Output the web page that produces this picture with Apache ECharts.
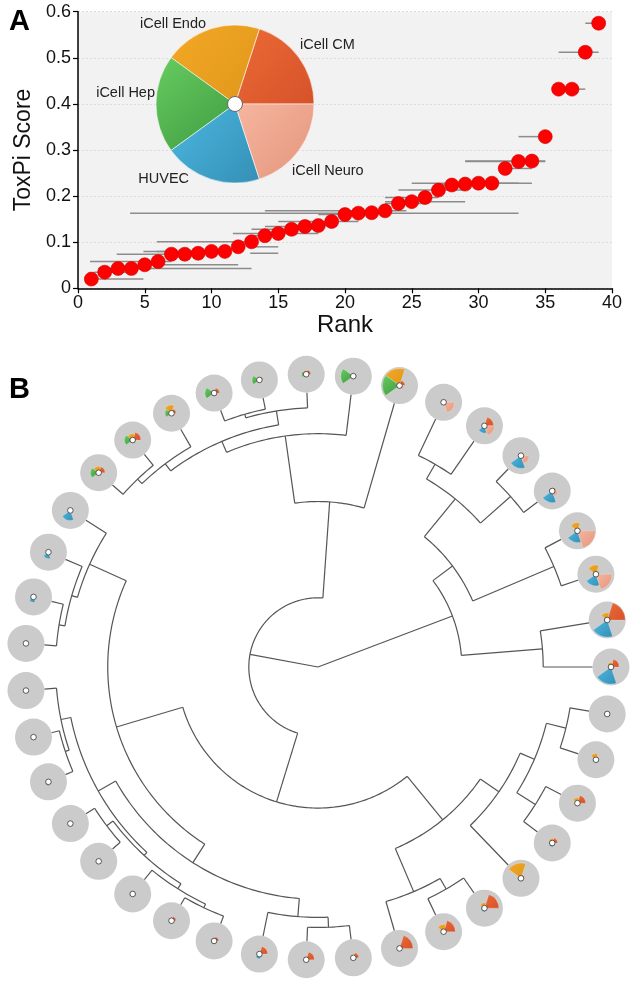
<!DOCTYPE html>
<html><head><meta charset="utf-8">
<script src="https://cdn.jsdelivr.net/npm/echarts/dist/echarts.min.js"></script>
<style>html,body{margin:0;padding:0;background:#fff}#c{width:633px;height:983px}</style>
</head><body><div id="c"></div>
<script>
// ---------- Panel A data ----------
const ranks = [1,2,3,4,5,6,7,8,9,10,11,12,13,14,15,16,17,18,19,20,21,22,23,24,25,26,27,28,29,30,31,32,33,34,35,36,37,38,39];
const toxpiScores = [0.020,0.035,0.043,0.043,0.051,0.058,0.074,0.074,0.076,0.080,0.080,0.090,0.101,0.114,0.119,0.128,0.134,0.136,0.145,0.160,0.163,0.164,0.168,0.184,0.188,0.197,0.213,0.224,0.226,0.228,0.228,0.260,0.275,0.276,0.329,0.432,0.432,0.512,0.575];
const rankLow  = [0.8,1.2,1.5,3.9,4.9,0.9,2.9,7.5,12.9,4.9,5.9,12.8,5.9,13.0,11.6,13.0,14.0,16.0,15.0,18.0,3.9,21.0,14.0,23.0,23.0,23.0,24.0,27.0,27.0,25.0,30.0,32.0,29.0,29.0,33.0,36.0,37.0,36.0,38.0];
const rankHigh = [4.9,3.6,5.5,13.0,12.0,7.0,7.0,9.0,15.0,9.1,11.0,15.0,13.1,14.5,18.0,18.0,18.0,19.0,21.0,21.0,33.0,23.0,24.6,26.0,29.0,27.0,29.0,30.0,30.0,33.0,34.0,34.0,35.0,35.0,35.0,37.0,38.0,39.0,39.0];
const xTicks = [0,5,10,15,20,25,30,35,40];
const yTicks = [0,0.1,0.2,0.3,0.4,0.5,0.6];

// ---------- ToxPi slices ----------
const sliceNames = ['iCell CM','iCell Endo','iCell Hep','HUVEC','iCell Neuro'];
const sliceLight = ['#ec6a36','#f3a826','#66cc60','#4bb8e0','#f6b6a0'];
const sliceDark  = ['#d6522a','#e0961a','#3f9a40','#358fb6','#e4957b'];

// ---------- Panel B data: slice scores per chemical (leaf id) ----------
const cmScores    = [0.25,0.03,0.30,0.03,0.50,0.05,0.20,0.02,0.02,1.00,0.45,0.00,0.05,0.45,0.30,0.20,0.80,0.65,0.75,0.30,0.45,0.45,0.25,0.25,0.00,0.00,0.00,0.05,0.10,0.10,0.00,0.00,0.00,0.00,0.35,0.45,0.25,0.30,0.20];
const endoScores  = [0.20,0.02,0.95,0.03,0.03,0.10,0.10,0.45,0.50,0.40,0.25,0.15,0.35,0.30,0.25,0.85,0.30,0.40,0.00,0.05,0.00,0.00,0.00,0.00,0.00,0.00,0.00,0.00,0.00,0.10,0.15,0.15,0.05,0.00,0.35,0.35,0.45,0.10,0.15];
const hepScores   = [0.25,0.70,0.95,0.10,0.05,0.00,0.00,0.05,0.10,0.20,0.00,0.00,0.00,0.00,0.00,0.20,0.20,0.05,0.00,0.10,0.00,0.00,0.00,0.00,0.00,0.00,0.00,0.00,0.05,0.10,0.00,0.00,0.00,0.15,0.45,0.45,0.35,0.50,0.40];
const huvecScores = [0.05,0.02,0.05,0.03,0.40,0.70,0.65,0.65,0.65,0.95,0.95,0.00,0.00,0.15,0.20,0.15,0.20,0.05,0.10,0.00,0.00,0.25,0.15,0.05,0.00,0.15,0.00,0.20,0.10,0.10,0.15,0.30,0.35,0.55,0.15,0.05,0.15,0.00,0.00];
const neuroScores = [0.05,0.02,0.25,0.60,0.55,0.45,0.30,1.00,0.90,0.10,0.00,0.00,0.15,0.00,0.10,0.00,0.00,0.00,0.00,0.00,0.00,0.00,0.00,0.00,0.10,0.00,0.00,0.15,0.10,0.10,0.00,0.00,0.00,0.00,0.00,0.00,0.00,0.00,0.00];

// dendrogram: [mergeHeight, childA, childB]; integers are leaf ids
const dendrogram =
[1.00,
  [0.745,
    [0.48,
      [0.273,
        [0.19, [0.133, [0.059, 11, 12], [0.052, 13, 14]], 15],
        [0.10, [0.055, 16, 17], 18]],
      [0.225,
        [0.144,
          [0.077, [0.04, 19, 20], 21],
          [0.07,
            [0.055, [0.033, [0.018, 22, 23], 24], [0.026, 25, 26]],
            [0.033, [0.018, 27, 28], 29]]],
        [0.077, [0.055, [0.033, 30, 31], 32], 33]]],
    [0.39,
      [0.14,
        [0.096, [0.063, [0.04, 34, 35], 36], [0.044, [0.03, 37, 38], 0]],
        1],
      2]],
  [0.47,
    [0.38, [0.20, [0.137, 3, 4], [0.052, 5, 6]], [0.055, 7, 8]],
    [0.17, 9, 10]]];

// ---------- build dendrogram geometry (in data units) ----------
const LEAF_H = -0.012, RING = -0.08;
const nodes = [], leafOrder = [];
function walk(n) {
  if (typeof n === 'number') { leafOrder.push(n); return {h: LEAF_H, a: leafOrder.length - 1}; }
  const kids = n.slice(1).map(walk);
  const node = {h: n[0], a: (kids[0].a + kids[kids.length - 1].a) / 2, kids};
  nodes.push(node);
  return node;
}
walk(dendrogram);
const nLeaves = leafOrder.length;

const FONT = 'Liberation Sans, Arial, sans-serif';
const grad = (i) => new echarts.graphic.LinearGradient(0, 0, 1, 1, [{offset: 0, color: sliceLight[i]}, {offset: 1, color: sliceDark[i]}]);

const chart = echarts.init(document.getElementById('c'), null, {renderer: 'canvas'});
chart.setOption({
  animation: false,
  backgroundColor: '#fff',
  textStyle: {fontFamily: FONT},
  title: [
    {text: 'A', left: 4, top: 2, textStyle: {fontSize: 29, fontWeight: 'bold', color: '#000', fontFamily: FONT}},
    {text: 'B', left: 4, top: 370, textStyle: {fontSize: 29, fontWeight: 'bold', color: '#000', fontFamily: FONT}}
  ],
  grid: {left: 78, right: 21, top: 11.7, bottom: 694.7, show: true, backgroundColor: '#f2f2f2', borderWidth: 0},
  xAxis: {
    type: 'value', min: xTicks[0], max: xTicks[xTicks.length - 1], interval: 5,
    axisLine: {show: true, onZero: false, lineStyle: {color: '#000', width: 1.5}},
    axisTick: {show: true, length: 5, lineStyle: {color: '#000', width: 1.2}},
    axisLabel: {fontSize: 18, color: '#111', margin: 6, fontFamily: FONT},
    splitLine: {show: false},
    name: 'Rank', nameLocation: 'middle', nameGap: 24,
    nameTextStyle: {fontSize: 24, color: '#111', fontFamily: FONT}
  },
  yAxis: {
    type: 'value', min: yTicks[0], max: yTicks[yTicks.length - 1], interval: 0.1,
    axisLine: {show: true, lineStyle: {color: '#000', width: 1.5}},
    axisTick: {show: true, length: 5, lineStyle: {color: '#000', width: 1.2}},
    axisLabel: {fontSize: 18, color: '#111', margin: 7, fontFamily: FONT,
      formatter: v => v === 0 ? '0' : v.toFixed(1)},
    splitLine: {show: true, lineStyle: {color: '#dcdcdc', type: [2, 2], width: 1}},
    name: 'ToxPi Score', nameLocation: 'middle', nameGap: 41,
    nameTextStyle: {fontSize: 23, color: '#111', fontFamily: FONT}
  },
  polar: {center: [318, 667], radius: 293},
  angleAxis: {type: 'value', min: 0, max: nLeaves, startAngle: 350.77, clockwise: true, show: false,
    axisLine: {show: false}, axisTick: {show: false}, axisLabel: {show: false}, splitLine: {show: false}},
  radiusAxis: {type: 'value', min: RING, max: 1, inverse: true, show: false,
    axisLine: {show: false}, axisTick: {show: false}, axisLabel: {show: false}, splitLine: {show: false}},
  series: [
    {
      type: 'custom', name: 'rankRange', coordinateSystem: 'cartesian2d', z: 2, silent: true,
      data: ranks.map((r, i) => [r, toxpiScores[i], rankLow[i], rankHigh[i]]),
      encode: {x: 0, y: 1},
      renderItem: (params, api) => {
        const y = api.value(1);
        const p1 = api.coord([api.value(2), y]), p2 = api.coord([api.value(3), y]);
        return {type: 'line', shape: {x1: p1[0], y1: p1[1], x2: p2[0], y2: p2[1]},
          style: {stroke: '#8c8c8c', lineWidth: 1.5}};
      }
    },
    {
      type: 'scatter', name: 'ToxPi', z: 3, silent: true,
      data: ranks.map((r, i) => [r, toxpiScores[i]]),
      symbol: 'circle', symbolSize: 14,
      itemStyle: {color: '#ff0000', borderColor: '#d40000', borderWidth: 0.6, opacity: 1}
    },
    {
      type: 'pie', name: 'legendPie', center: [235, 104], radius: [0, 79],
      startAngle: 0, clockwise: false, silent: true, z: 5,
      data: sliceNames.map((n, i) => ({name: n, value: 1, itemStyle: {color: grad(i)}})),
      itemStyle: {borderColor: 'rgba(255,255,255,0.7)', borderWidth: 0.8},
      label: {show: true, position: 'outside', fontSize: 14.5, color: '#222', fontFamily: FONT, formatter: '{b}', distanceToLabelLine: 5},
      labelLine: {show: false, length: 5, length2: 0},
      labelLayout: (p) => {
        const adj = [[-8, -10], [2, 0], [9, -11], [-15, -5], [-16, 18]][p.dataIndex];
        return {dx: adj[0], dy: adj[1]};
      }
    },
    {
      type: 'pie', name: 'pieHub', center: [235, 104], radius: [0, 7.5], silent: true, z: 6,
      data: [{name: 'hub', value: 1}], label: {show: false}, labelLine: {show: false},
      itemStyle: {color: '#fff', borderColor: '#666', borderWidth: 1}
    },
    {
      type: 'custom', name: 'dendrogram', coordinateSystem: 'polar', z: 2, silent: true,
      data: nodes.map(n => [n.h, n.a]),
      renderItem: (params, api) => {
        const n = nodes[params.dataIndex];
        const as = n.kids.map(k => k.a);
        const a0 = Math.min(...as), a1 = Math.max(...as);
        const steps = Math.max(2, Math.ceil((a1 - a0) * 10));
        const pts = [];
        for (let s = 0; s <= steps; s++) pts.push(api.coord([n.h, a0 + (a1 - a0) * s / steps]));
        const children = [{type: 'polyline', shape: {points: pts}, style: {stroke: '#555', lineWidth: 1.2, fill: null}}];
        n.kids.forEach(k => {
          const p1 = api.coord([n.h, k.a]), p2 = api.coord([k.h, k.a]);
          children.push({type: 'line', shape: {x1: p1[0], y1: p1[1], x2: p2[0], y2: p2[1]}, style: {stroke: '#555', lineWidth: 1.2}});
        });
        return {type: 'group', children};
      }
    },
    {
      type: 'custom', name: 'toxpiGlyphs', coordinateSystem: 'polar', z: 4, silent: true,
      data: leafOrder.map((id, pos) => [RING, pos, id]),
      renderItem: (params, api) => {
        const id = api.value(2);
        const c = api.coord([RING, api.value(1)]);
        const vals = [cmScores[id], endoScores[id], hepScores[id], huvecScores[id], neuroScores[id]];
        const ch = [{type: 'circle', shape: {cx: c[0], cy: c[1], r: 18.5}, style: {fill: '#cbcbcb'}}];
        vals.forEach((v, i) => {
          if (v <= 0) return;
          ch.push({type: 'sector', shape: {cx: c[0], cy: c[1], r0: 0, r: v * 18,
              startAngle: -(i + 1) * 72 * Math.PI / 180, endAngle: -i * 72 * Math.PI / 180, clockwise: true},
            style: {fill: grad(i), stroke: 'rgba(255,255,255,0.5)', lineWidth: 0.4}});
        });
        ch.push({type: 'circle', shape: {cx: c[0], cy: c[1], r: 2.8}, style: {fill: '#fff', stroke: '#333', lineWidth: 0.8}});
        return {type: 'group', children: ch};
      }
    }
  ]
});
</script>
</body></html>
